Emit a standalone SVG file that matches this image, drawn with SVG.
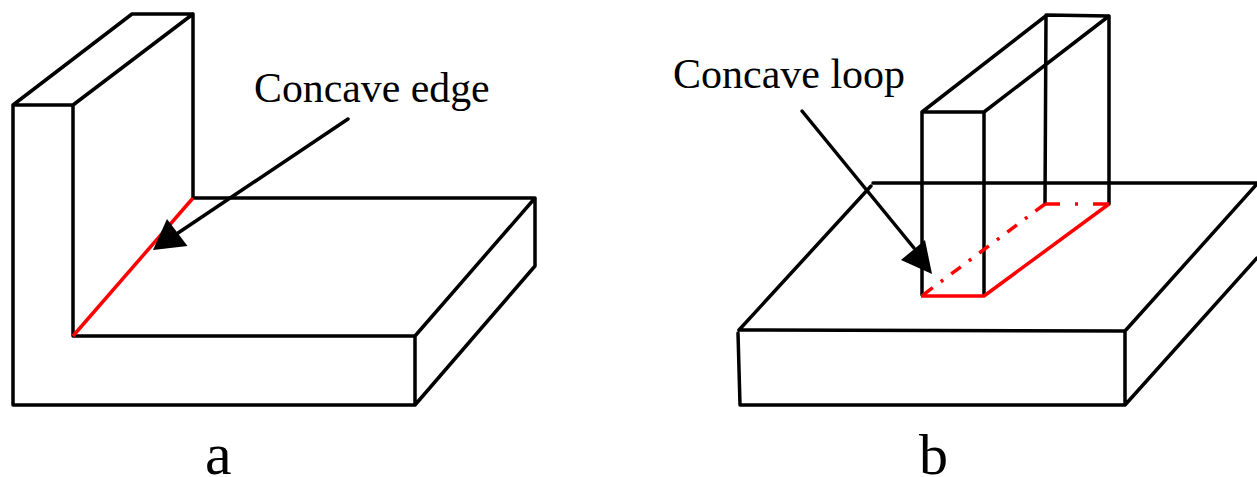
<svg xmlns="http://www.w3.org/2000/svg" width="1257" height="477" viewBox="0 0 1257 477">
<style>
.k{fill:none;stroke:#000;stroke-width:3.5;stroke-linecap:round;stroke-linejoin:round}
.r{fill:none;stroke:#f00;stroke-width:3.5;stroke-linejoin:round}
.a{fill:#000;stroke:none}
.t{font-family:"Liberation Serif","Times New Roman",serif;fill:#000}
</style>
<rect width="1257" height="477" fill="#fff"/>
<g id="shape-a">
<path class="k" d="M13 405V105L132 14H193L193 198H535V266L415 405H13M13 105H73L193 14M73 105V336H415V405M415 336L535 198"/>
</g>
<g id="shape-b">
<path class="k" d="M873 183H1257M871 186L739 330L1125 331V405H740L738 333M1125 331L1257 184M1125 405L1257 258"/>
<path class="k" d="M922 295V112H984V295M922 112L1047 15L1109 16V204M984 112L1109 16M1046 15L1045 204"/>
</g>
<g id="connectors">
<path class="r" d="M193 198L73 336"/>
<path class="r" d="M921 296H984L1109 204"/>
<path class="r" stroke-dasharray="12 10 3 10" d="M1045 204L923 295"/>
<path class="r" stroke-dasharray="15 15 3 15 16 99" d="M1045 204H1109"/>
<path class="k" d="M348 119L178 233"/>
<polygon class="a" points="153,250 167,219 187.500,246"/>
<path class="k" d="M802 111L914 248"/>
<polygon class="a" points="932,274 925,240 901,260"/>
</g>
<g id="labels">
<text class="t" x="254" y="102" font-size="41.800">Concave edge</text>
<text class="t" x="673" y="88" font-size="42">Concave loop</text>
<text class="t" x="205" y="474" font-size="60">a</text>
<text class="t" x="919" y="474" font-size="58">b</text>
</g>
</svg>
